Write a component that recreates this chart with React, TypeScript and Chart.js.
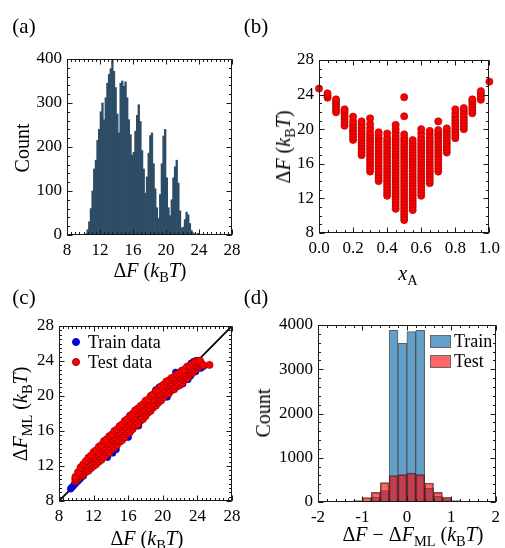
import React, { useEffect, useRef } from 'react';
import { Chart, registerables } from 'chart.js';

Chart.register(...registerables);

const FONT = "'Liberation Serif', 'Times New Roman', serif";

// ---------------- Panel (a): histogram of ΔF ----------------
const histACenters = [
  10.3, 10.5, 10.7, 10.9, 11.1, 11.3, 11.5, 11.7, 11.9, 12.1, 12.3, 12.5, 12.7, 12.9, 13.1, 13.3, 13.5, 13.7,
  13.9, 14.1, 14.3, 14.5, 14.7, 14.9, 15.1, 15.3, 15.5, 15.7, 15.9, 16.1, 16.3, 16.5, 16.7, 16.9, 17.1, 17.3,
  17.5, 17.7, 17.9, 18.1, 18.3, 18.5, 18.7, 18.9, 19.1, 19.3, 19.5, 19.7, 19.9, 20.1, 20.3, 20.5, 20.7, 20.9,
  21.1, 21.3, 21.5, 21.7, 21.9, 22.1, 22.3, 22.5, 22.7, 22.9, 23.1, 23.3, 23.5, 23.7, 23.9, 24.1,
];
const histACounts = [
  3, 12, 30, 60, 100, 150, 170, 215, 240, 280, 300, 262, 312, 345, 365, 378, 400, 372,
  335, 275, 232, 345, 350, 338, 348, 312, 262, 228, 182, 188, 236, 272, 296, 258, 192, 150,
  95, 132, 186, 226, 232, 162, 105, 62, 38, 92, 162, 225, 240, 130, 62, 44, 80, 130,
  155, 170, 118, 55, 16, 18, 35, 52, 46, 26, 10, 5, 2, 2, 4, 1,
];

// ---------------- Panel (b): ΔF vs x_A ----------------
const xAValues = [0.0, 0.05, 0.1, 0.15, 0.2, 0.25, 0.3, 0.35, 0.4, 0.45, 0.5, 0.55, 0.6, 0.65, 0.7, 0.75, 0.8, 0.85, 0.9, 0.95, 1.0];
const dFByXA: number[][] = [
  [24.7],
  [23.65, 23.9, 24.15],
  [21.95, 22.3, 22.6, 22.9, 23.2, 23.45],
  [20.4, 20.75, 21.1, 21.45, 21.75, 22.05, 22.3],
  [18.75, 19.1, 19.45, 19.8, 20.15, 20.5, 20.9, 21.45],
  [17.0, 17.35, 17.7, 18.05, 18.4, 18.75, 19.1, 19.45, 19.8, 20.15, 20.5, 20.9],
  [15.1, 15.45, 15.8, 16.15, 16.5, 16.85, 17.2, 17.55, 17.9, 18.25, 18.6, 18.95, 19.3, 19.65, 20.1, 20.6, 21.25],
  [14.0, 14.35, 14.7, 15.05, 15.4, 15.75, 16.1, 16.45, 16.8, 17.15, 17.5, 17.85, 18.2, 18.55, 18.9, 19.25, 19.65],
  [12.3, 12.65, 13.0, 13.35, 13.7, 14.05, 14.4, 14.75, 15.1, 15.45, 15.8, 16.15, 16.5, 16.85, 17.2, 17.55, 17.9, 18.25, 18.6, 18.95, 19.5],
  [10.8, 11.15, 11.5, 11.85, 12.2, 12.55, 12.9, 13.25, 13.6, 13.95, 14.3, 14.65, 15.0, 15.35, 15.7, 16.05, 16.4, 16.75, 17.1, 17.45, 17.8, 18.15, 18.5, 18.85, 19.2, 19.6, 20.0, 20.5],
  [9.5, 9.85, 10.2, 10.55, 10.9, 11.25, 11.6, 11.95, 12.3, 12.65, 13.0, 13.35, 13.7, 14.05, 14.4, 14.75, 15.1, 15.45, 15.8, 16.15, 16.5, 16.85, 17.2, 17.55, 17.9, 18.25, 18.6, 18.95, 19.4, 21.5, 23.7],
  [10.65, 11.0, 11.35, 11.7, 12.05, 12.4, 12.75, 13.1, 13.45, 13.8, 14.15, 14.5, 14.85, 15.2, 15.55, 15.9, 16.25, 16.6, 16.95, 17.3, 17.65, 18.0, 18.35, 18.75],
  [12.3, 12.65, 13.0, 13.35, 13.7, 14.05, 14.4, 14.75, 15.1, 15.45, 15.8, 16.15, 16.5, 16.85, 17.2, 17.55, 17.9, 18.25, 18.6, 19.0, 19.5, 20.0],
  [13.75, 14.1, 14.45, 14.8, 15.15, 15.5, 15.85, 16.2, 16.55, 16.9, 17.25, 17.6, 17.95, 18.3, 18.65, 19.0, 19.4, 19.8],
  [15.1, 15.45, 15.8, 16.15, 16.5, 16.85, 17.2, 17.55, 17.9, 18.25, 18.6, 18.95, 19.3, 19.6, 19.9, 20.9],
  [17.3, 17.65, 18.0, 18.35, 18.7, 19.05, 19.4, 19.75, 20.1],
  [18.95, 19.3, 19.65, 20.0, 20.35, 20.7, 21.05, 21.4, 21.8, 22.3],
  [20.0, 20.35, 20.7, 21.05, 21.4, 21.75, 22.1, 22.45],
  [21.85, 22.2, 22.55, 22.9, 23.2, 23.45],
  [23.4, 23.75, 24.1, 24.4],
  [25.5],
];

// ---------------- Panel (c): ΔF_ML vs ΔF ----------------
const testDF = [
  9.9, 10.2, 10.5, 10.8, 11.1, 11.4, 11.7, 12.0, 12.3, 12.6, 12.9, 13.2, 13.5, 13.8, 14.1, 14.4, 14.7,
  15.0, 15.3, 15.6, 15.9, 16.2, 16.5, 16.8, 17.1, 17.4, 17.7, 18.0, 18.3, 18.6, 18.9, 19.2, 19.5, 19.8,
  20.1, 20.4, 20.7, 21.0, 21.3, 21.6, 21.9, 22.2, 22.5, 22.8, 23.1, 23.4, 23.7, 24.0, 24.3,
];
const testML1 = [
  10.25, 10.55, 10.8, 11.0, 11.3, 11.45, 11.75, 12.0, 12.2, 12.5, 12.7, 13.05, 13.3, 13.5, 13.9, 14.1, 14.4,
  14.75, 14.95, 15.3, 15.65, 15.85, 16.2, 16.55, 16.75, 17.15, 17.35, 17.7, 18.1, 18.3, 18.7, 18.9, 19.25, 19.5,
  19.85, 20.15, 20.3, 20.65, 20.75, 21.05, 21.2, 21.45, 21.85, 22.0, 22.4, 22.6, 23.0, 23.2, 23.45,
];
const testML2 = [
  10.42, 10.78, 11.15, 11.43, 11.7, 12.05, 12.25, 12.55, 12.8, 13.1, 13.3, 13.65, 13.9, 14.2, 14.45, 14.8, 15.0,
  15.35, 15.6, 15.95, 16.2, 16.55, 16.8, 17.15, 17.4, 17.7, 18.05, 18.3, 18.6, 18.95, 19.2, 19.55, 19.75, 20.1,
  20.35, 20.65, 20.85, 21.15, 21.25, 21.5, 21.7, 22.05, 22.25, 22.55, 22.7, 23.0, 23.3, 23.45, 23.65,
];
const testML3 = [
  10.58, 11.02, 11.45, 11.8, 12.05, 12.4, 12.75, 12.95, 13.3, 13.5, 13.9, 14.15, 14.5, 14.7, 15.05, 15.3, 15.6,
  15.85, 16.2, 16.45, 16.8, 17.05, 17.4, 17.65, 18.0, 18.2, 18.5, 18.85, 19.05, 19.4, 19.65, 20.0, 20.2, 20.55,
  20.8, 21.1, 21.3, 21.5, 21.75, 21.9, 22.15, 22.4, 22.6, 22.9, 23.05, 23.3, 23.5, 23.75, 23.85,
];
const testML4 = [
  10.75, 11.3, 11.85, 12.2, 12.55, 12.95, 13.2, 13.6, 13.8, 14.2, 14.4, 14.85, 15.05, 15.4, 15.6, 16.0, 16.2,
  16.55, 16.75, 17.15, 17.35, 17.75, 17.95, 18.35, 18.55, 18.85, 19.05, 19.45, 19.6, 20.0, 20.2, 20.6, 20.75, 21.1,
  21.3, 21.65, 21.8, 22.05, 22.15, 22.45, 22.6, 22.9, 23.0, 23.35, 23.45, 23.65, 23.9, 24.0, 24.05,
];
const testExtraDF = [25.4, 24.7];
const testExtraML = [23.55, 23.5];
const trainDF = [9.35, 9.55, 9.75, 9.95, 10.2, 10.45, 10.8, 13.6, 14.2, 14.6, 16.0, 17.2, 18.6, 19.2, 19.6, 20.5, 21.5, 22.3, 22.9, 23.3, 23.6, 23.9, 24.2, 24.5, 24.7, 24.4, 23.8, 23.2];
const trainML = [9.4, 9.6, 9.85, 10.05, 10.3, 10.55, 10.85, 13.0, 13.5, 13.9, 15.3, 16.6, 20.0, 20.7, 21.0, 19.9, 22.7, 21.4, 21.9, 23.75, 23.95, 24.05, 23.9, 23.7, 23.4, 23.2, 22.8, 22.3];
const diagX = [8, 28];

// ---------------- Panel (d): residual histograms ----------------
const binCentersD = [-1.1, -0.9, -0.7, -0.5, -0.3, -0.1, 0.1, 0.3, 0.5, 0.7, 0.9, 1.1];
const trainCountsD = [5, 20, 105, 256, 3880, 3585, 3850, 3880, 309, 136, 53, 10];
const testCountsD = [30, 98, 218, 437, 595, 617, 655, 617, 429, 218, 105, 30];

// ---------------- helpers ----------------
const framePlugin = {
  id: 'frameTicks',
  afterDraw(chart: any, _args: any, opts: any) {
    const { ctx, chartArea: a, scales } = chart;
    const xs = scales.x;
    const ys = scales.y;
    ctx.save();
    ctx.strokeStyle = '#1a1a1a';
    ctx.lineWidth = 1;
    const L = Math.round(a.left) + 0.5;
    const R = Math.round(a.right) - 0.5;
    const T = Math.round(a.top) + 0.5;
    const B = Math.round(a.bottom) - 0.5;
    const tickSet = (scale: any, step: number) => {
      const out: number[] = [];
      const n = Math.round((scale.max - scale.min) / step);
      for (let i = 0; i <= n; i++) out.push(scale.min + i * step);
      return out;
    };
    const drawX = (vals: number[], len: number) => {
      vals.forEach((v) => {
        const p = Math.round(xs.getPixelForValue(v)) + 0.5;
        ctx.moveTo(p, B); ctx.lineTo(p, B - len);
        ctx.moveTo(p, T); ctx.lineTo(p, T + len);
      });
    };
    const drawY = (vals: number[], len: number) => {
      vals.forEach((v) => {
        const p = Math.round(ys.getPixelForValue(v)) + 0.5;
        ctx.moveTo(L, p); ctx.lineTo(L + len, p);
        ctx.moveTo(R, p); ctx.lineTo(R - len, p);
      });
    };
    ctx.beginPath();
    drawX(tickSet(xs, opts.minorX), 2.5);
    drawY(tickSet(ys, opts.minorY), 2.5);
    drawX(xs.ticks.map((t: any) => t.value), 5);
    drawY(ys.ticks.map((t: any) => t.value), 5);
    ctx.stroke();
    ctx.strokeRect(L, T, R - L, B - T);
    ctx.restore();
  },
};

function axis(min: number, max: number, step: number, fmt: (v: number) => string, kind: 'x' | 'y', size: number) {
  return {
    type: 'linear',
    min,
    max,
    offset: false,
    grid: { display: false, drawTicks: false, offset: false },
    border: { display: false },
    ticks: {
      stepSize: step,
      autoSkip: false,
      maxRotation: 0,
      padding: 5,
      color: '#000',
      font: { family: FONT, size: 17 },
      callback: (v: any) => fmt(Number(v)),
    },
    afterFit: (s: any) => {
      if (kind === 'x') s.height = size; else s.width = size;
    },
  };
}

const intFmt = (v: number) => String(Math.round(v));
const oneDec = (v: number) => v.toFixed(1);

function baseOptions(padding: any, minorX: number, minorY: number) {
  return {
    responsive: false,
    animation: false,
    events: [],
    layout: { padding },
    plugins: {
      legend: { display: false },
      tooltip: { enabled: false },
      frameTicks: { minorX, minorY },
    },
  };
}

const sub = (t: string) => (
  <span style={{ fontSize: '0.72em', position: 'relative', top: '0.32em', fontStyle: 'normal' }}>{t}</span>
);
const kBT = (
  <>
    (<i>k</i>
    {sub('B')}
    <i>T</i>)
  </>
);

function Txt(props: { x: number; y: number; size?: number; rot?: boolean; children: any }) {
  return (
    <div
      style={{
        position: 'absolute',
        left: props.x,
        top: props.y,
        transform: `translate(-50%, -50%)${props.rot ? ' rotate(-90deg)' : ''}`,
        whiteSpace: 'nowrap',
        fontFamily: FONT,
        fontSize: props.size ?? 20,
        lineHeight: 1,
        color: '#000',
      }}
    >
      {props.children}
    </div>
  );
}

export default function App() {
  const ra = useRef<HTMLCanvasElement>(null);
  const rb = useRef<HTMLCanvasElement>(null);
  const rc = useRef<HTMLCanvasElement>(null);
  const rd = useRef<HTMLCanvasElement>(null);

  useEffect(() => {
    const charts: Chart[] = [];

    // (a)
    charts.push(
      new Chart(ra.current!, {
        type: 'bar',
        data: {
          datasets: [
            {
              data: histACenters.map((c, i) => ({ x: c, y: histACounts[i] })),
              backgroundColor: '#2d4c65',
              borderWidth: 0,
              barPercentage: 1,
              categoryPercentage: 1,
            } as any,
          ],
        },
        options: {
          ...baseOptions({ left: 27, right: 18, top: 59, bottom: 15 }, 0.5, 20),
          scales: { x: axis(8, 28, 4, intFmt, 'x', 30), y: axis(0, 400, 100, intFmt, 'y', 40) },
        } as any,
        plugins: [framePlugin],
      })
    );

    // (b)
    const ptsB: { x: number; y: number }[] = [];
    xAValues.forEach((xa, i) => dFByXA[i].forEach((v) => ptsB.push({ x: xa, y: v })));
    charts.push(
      new Chart(rb.current!, {
        type: 'scatter',
        data: {
          datasets: [
            {
              data: ptsB,
              backgroundColor: '#ff0000',
              borderColor: '#9a0000',
              borderWidth: 0.6,
              pointRadius: 3.6,
              clip: false,
            } as any,
          ],
        },
        options: {
          ...baseOptions({ left: 29, right: 12, top: 60, bottom: 17 }, 0.05, 1),
          scales: { x: axis(0, 1, 0.2, oneDec, 'x', 30), y: axis(8, 28, 4, intFmt, 'y', 40) },
        } as any,
        plugins: [framePlugin],
      })
    );

    // (c)
    const ptsTest: { x: number; y: number }[] = [];
    [testML1, testML2, testML3, testML4].forEach((row) => row.forEach((v, i) => ptsTest.push({ x: testDF[i], y: v })));
    testExtraDF.forEach((v, i) => ptsTest.push({ x: v, y: testExtraML[i] }));
    charts.push(
      new Chart(rc.current!, {
        type: 'scatter',
        data: {
          datasets: [
            {
              label: 'Test data',
              data: ptsTest,
              backgroundColor: '#ff0000',
              borderColor: '#8a0000',
              borderWidth: 0.6,
              pointRadius: 3.6,
            },
            {
              label: 'Train data',
              data: trainDF.map((v, i) => ({ x: v, y: trainML[i] })),
              backgroundColor: '#0000ff',
              borderColor: '#00008a',
              borderWidth: 0.6,
              pointRadius: 3.4,
            },
            {
              data: diagX.map((v) => ({ x: v, y: v })),
              showLine: true,
              borderColor: '#000',
              borderWidth: 1.8,
              pointRadius: 0,
            },
          ] as any,
        },
        options: {
          ...baseOptions({ left: 19, right: 18, top: 46, bottom: 17 }, 0.5, 0.5),
          scales: { x: axis(8, 28, 4, intFmt, 'x', 30), y: axis(8, 28, 4, intFmt, 'y', 40) },
        } as any,
        plugins: [framePlugin],
      })
    );

    // (d)
    charts.push(
      new Chart(rd.current!, {
        type: 'bar',
        data: {
          datasets: [
            {
              label: 'Test',
              data: binCentersD.map((c, i) => ({ x: c, y: testCountsD[i] })),
              backgroundColor: 'rgba(255,0,0,0.6)',
              borderColor: 'rgba(40,40,40,0.75)',
              borderWidth: 1,
              barPercentage: 1,
              categoryPercentage: 1,
              grouped: false,
            },
            {
              label: 'Train',
              data: binCentersD.map((c, i) => ({ x: c, y: trainCountsD[i] })),
              backgroundColor: '#62a0ca',
              borderColor: 'rgba(40,40,40,0.75)',
              borderWidth: 1,
              barPercentage: 1,
              categoryPercentage: 1,
              grouped: false,
            },
          ] as any,
        },
        options: {
          ...baseOptions({ left: 23, right: 8, top: 45, bottom: 16 }, 0.2, 200),
          scales: { x: axis(-2, 2, 1, intFmt, 'x', 30), y: axis(0, 4000, 1000, intFmt, 'y', 45) },
        } as any,
        plugins: [framePlugin],
      })
    );

    return () => charts.forEach((c) => c.destroy());
  }, []);

  const dot = (bg: string, bd: string) => (
    <span style={{ display: 'inline-block', width: 6, height: 6, borderRadius: '50%', background: bg, border: `0.5px solid ${bd}` }} />
  );
  const box = (bg: string) => (
    <span style={{ display: 'inline-block', width: 19, height: 11, background: bg, border: '1px solid #666' }} />
  );

  return (
    <div style={{ position: 'absolute', left: 0, top: 0, width: 505, height: 548, background: '#fff', fontFamily: FONT }}>
      <canvas ref={ra} width={250} height={280} style={{ position: 'absolute', left: 0, top: 0 }} />
      <canvas ref={rb} width={255} height={280} style={{ position: 'absolute', left: 250, top: 0 }} />
      <canvas ref={rc} width={250} height={268} style={{ position: 'absolute', left: 0, top: 280 }} />
      <canvas ref={rd} width={255} height={268} style={{ position: 'absolute', left: 250, top: 280 }} />

      <Txt x={24} y={26} size={21}>(a)</Txt>
      <Txt x={256} y={26} size={21}>(b)</Txt>
      <Txt x={24} y={297} size={21}>(c)</Txt>
      <Txt x={256} y={297} size={21}>(d)</Txt>

      {/* (a) */}
      <Txt x={150} y={270}>Δ<i>F</i> {kBT}</Txt>
      <Txt x={22} y={148} rot>Count</Txt>
      {/* (b) */}
      <Txt x={408} y={273}><i>x</i>{sub('A')}</Txt>
      <Txt x={283} y={147} rot>Δ<i>F</i> {kBT}</Txt>
      {/* (c) */}
      <Txt x={147} y={538}>Δ<i>F</i> {kBT}</Txt>
      <Txt x={20} y={414} rot>Δ<i>F</i>{sub('ML')} {kBT}</Txt>
      {/* (d) */}
      <Txt x={413} y={534}>Δ<i>F</i> − Δ<i>F</i>{sub('ML')} {kBT}</Txt>
      <Txt x={263} y={413} rot>Count</Txt>

      {/* legend (c) */}
      <div style={{ position: 'absolute', left: 72, top: 332, fontSize: 18, lineHeight: '20px', whiteSpace: 'nowrap' }}>
        <div style={{ display: 'flex', alignItems: 'center', gap: 8 }}>{dot('#0000ff', '#00008a')}<span>Train data</span></div>
        <div style={{ display: 'flex', alignItems: 'center', gap: 8 }}>{dot('#ff0000', '#8a0000')}<span>Test data</span></div>
      </div>
      {/* legend (d) */}
      <div style={{ position: 'absolute', left: 430, top: 331, fontSize: 18, lineHeight: '20px', whiteSpace: 'nowrap' }}>
        <div style={{ display: 'flex', alignItems: 'center', gap: 3 }}>{box('#62a0ca')}<span>Train</span></div>
        <div style={{ display: 'flex', alignItems: 'center', gap: 3 }}>{box('rgba(255,0,0,0.6)')}<span>Test</span></div>
      </div>
    </div>
  );
}
